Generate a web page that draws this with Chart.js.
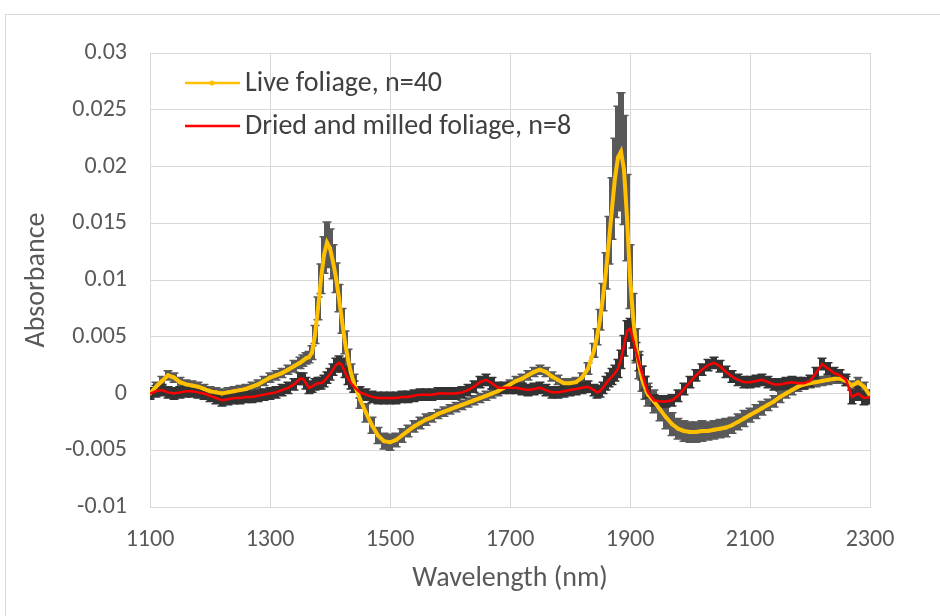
<!DOCTYPE html>
<html>
<head>
<meta charset="utf-8">
<script src="https://cdn.jsdelivr.net/npm/chart.js@4.4.0/dist/chart.umd.min.js"></script>
<style>
  html, body { margin: 0; padding: 0; background: #fff; overflow: hidden; }
  canvas { display: block; }
</style>
</head>
<body>
<canvas id="spectra" width="940" height="616"></canvas>
<script>
// wavelength grid (nm): 10 nm steps, 5 nm across the two water bands
const wavelengths = [
  1100, 1110, 1120, 1130, 1140, 1150, 1160, 1170, 1180, 1190,
  1200, 1210, 1220, 1230, 1240, 1250, 1260, 1270, 1280, 1290,
  1300, 1310, 1320, 1330, 1340, 1350,
  1355, 1360, 1365, 1370, 1375, 1380, 1385, 1390, 1395, 1400,
  1405, 1410, 1415, 1420, 1425, 1430, 1435, 1440,
  1450, 1460, 1470, 1480, 1490, 1500, 1510, 1520, 1530, 1540,
  1550, 1560, 1570, 1580, 1590, 1600, 1610, 1620, 1630, 1640,
  1650, 1660, 1670, 1680, 1690, 1700, 1710, 1720, 1730, 1740,
  1750, 1760, 1770, 1780, 1790, 1800, 1810, 1820, 1830, 1840,
  1845, 1850, 1855, 1860, 1865, 1870, 1875, 1880, 1885, 1890,
  1895, 1900, 1905, 1910, 1915, 1920, 1925, 1930,
  1940, 1950, 1960, 1970, 1980, 1990, 2000, 2010, 2020, 2030,
  2040, 2050, 2060, 2070, 2080, 2090, 2100, 2110, 2120, 2130,
  2140, 2150, 2160, 2170, 2180, 2190, 2200, 2210, 2220, 2230,
  2240, 2250, 2260, 2270, 2280, 2290, 2300
];

// live foliage: mean absorbance and standard deviation
const liveMean = [
  0.0000, 0.0006, 0.0011, 0.0016, 0.0014, 0.0010, 0.0008, 0.0007, 0.0006, 0.0004,
  0.0002, 0.0001, 0.0000, 0.0001, 0.0002, 0.0003, 0.0004, 0.0006, 0.0008, 0.0011,
  0.0014, 0.0016, 0.0018, 0.0021, 0.0024, 0.0027,
  0.0029, 0.0031, 0.0032, 0.0036, 0.0052, 0.0075, 0.0101, 0.0122, 0.0133, 0.0128,
  0.0116, 0.0102, 0.0084, 0.0064, 0.0045, 0.0030, 0.0018, 0.0009,
  -0.0005, -0.0017, -0.0028, -0.0037, -0.0042, -0.0043, -0.0041, -0.0037, -0.0033, -0.0029,
  -0.0026, -0.0023, -0.0021, -0.0018, -0.0016, -0.0014, -0.0012, -0.0010, -0.0008, -0.0006,
  -0.0004, -0.0002, 0.0000, 0.0002, 0.0005, 0.0008, 0.0011, 0.0013, 0.0016, 0.0019,
  0.0021, 0.0019, 0.0015, 0.0012, 0.0009, 0.0009, 0.0010, 0.0014, 0.0022, 0.0038,
  0.0050, 0.0065, 0.0085, 0.0108, 0.0135, 0.0163, 0.0190, 0.0208, 0.0213, 0.0197,
  0.0155, 0.0103, 0.0068, 0.0042, 0.0025, 0.0013, 0.0005, -0.0001,
  -0.0007, -0.0014, -0.0021, -0.0027, -0.0031, -0.0033, -0.0034, -0.0034, -0.0033, -0.0033,
  -0.0032, -0.0031, -0.0030, -0.0028, -0.0025, -0.0022, -0.0019, -0.0016, -0.0013, -0.0010,
  -0.0007, -0.0003, 0.0000, 0.0003, 0.0006, 0.0008, 0.0009, 0.0010, 0.0011, 0.0012,
  0.0013, 0.0013, 0.0011, 0.0007, 0.0010, 0.0006, -0.0002
];
const liveSd = [
  0.0004, 0.0004, 0.0004, 0.0004, 0.0004, 0.0004, 0.0004, 0.0004, 0.0004, 0.0004,
  0.0004, 0.0004, 0.0004, 0.0004, 0.0004, 0.0004, 0.0004, 0.0004, 0.0004, 0.0004,
  0.0004, 0.0004, 0.0004, 0.0004, 0.0005, 0.0005,
  0.0005, 0.0005, 0.0005, 0.0006, 0.0008, 0.0010, 0.0013, 0.0016, 0.0018, 0.0017,
  0.0015, 0.0013, 0.0012, 0.0011, 0.0010, 0.0009, 0.0008, 0.0008,
  0.0008, 0.0008, 0.0007, 0.0007, 0.0007, 0.0007, 0.0006, 0.0006, 0.0005, 0.0005,
  0.0005, 0.0005, 0.0004, 0.0004, 0.0004, 0.0004, 0.0004, 0.0004, 0.0004, 0.0004,
  0.0004, 0.0004, 0.0004, 0.0004, 0.0004, 0.0004, 0.0004, 0.0004, 0.0004, 0.0004,
  0.0004, 0.0004, 0.0004, 0.0004, 0.0004, 0.0004, 0.0004, 0.0004, 0.0005, 0.0006,
  0.0007, 0.0009, 0.0012, 0.0016, 0.0021, 0.0027, 0.0035, 0.0045, 0.0052, 0.0048,
  0.0038, 0.0028, 0.0020, 0.0015, 0.0012, 0.0011, 0.0010, 0.0010,
  0.0010, 0.0010, 0.0010, 0.0010, 0.0009, 0.0009, 0.0009, 0.0009, 0.0009, 0.0008,
  0.0008, 0.0008, 0.0008, 0.0007, 0.0007, 0.0007, 0.0006, 0.0006, 0.0006, 0.0005,
  0.0005, 0.0005, 0.0004, 0.0004, 0.0004, 0.0004, 0.0004, 0.0004, 0.0004, 0.0004,
  0.0004, 0.0004, 0.0004, 0.0004, 0.0004, 0.0004, 0.0004
];

// dried and milled foliage: mean absorbance and standard deviation
const driedMean = [
  0.0000, 0.0002, 0.0003, 0.0001, 0.0000, 0.0001, 0.0002, 0.0002, 0.0001, 0.0000,
  -0.0002, -0.0004, -0.0006, -0.0005, -0.0004, -0.0004, -0.0003, -0.0003, -0.0002, -0.0001,
  0.0000, 0.0001, 0.0003, 0.0005, 0.0008, 0.0013,
  0.0013, 0.0009, 0.0005, 0.0006, 0.0008, 0.0009, 0.0009, 0.0011, 0.0014, 0.0017,
  0.0021, 0.0025, 0.0027, 0.0025, 0.0019, 0.0013, 0.0009, 0.0006,
  0.0001, -0.0001, -0.0003, -0.0004, -0.0004, -0.0004, -0.0004, -0.0003, -0.0003, -0.0002,
  -0.0001, -0.0001, -0.0001, 0.0000, 0.0000, 0.0000, 0.0000, 0.0001, 0.0003, 0.0006,
  0.0010, 0.0012, 0.0009, 0.0005, 0.0005, 0.0005, 0.0005, 0.0004, 0.0003, 0.0004,
  0.0005, 0.0003, 0.0001, 0.0001, 0.0002, 0.0003, 0.0004, 0.0005, 0.0006, 0.0003,
  0.0001, 0.0002, 0.0005, 0.0009, 0.0012, 0.0015, 0.0018, 0.0022, 0.0030, 0.0042,
  0.0055, 0.0057, 0.0048, 0.0037, 0.0027, 0.0018, 0.0009, 0.0001,
  -0.0006, -0.0007, -0.0007, -0.0006, -0.0002, 0.0004, 0.0010, 0.0016, 0.0021, 0.0025,
  0.0027, 0.0024, 0.0019, 0.0015, 0.0012, 0.0010, 0.0010, 0.0011, 0.0012, 0.0010,
  0.0008, 0.0008, 0.0009, 0.0010, 0.0009, 0.0009, 0.0011, 0.0018, 0.0026, 0.0022,
  0.0018, 0.0016, 0.0012, -0.0003, 0.0000, -0.0004, -0.0003
];
const driedSd = [
  0.0005, 0.0005, 0.0005, 0.0005, 0.0005, 0.0005, 0.0005, 0.0005, 0.0005, 0.0005,
  0.0005, 0.0005, 0.0005, 0.0005, 0.0005, 0.0005, 0.0005, 0.0005, 0.0005, 0.0005,
  0.0005, 0.0005, 0.0005, 0.0005, 0.0005, 0.0005,
  0.0005, 0.0005, 0.0005, 0.0005, 0.0005, 0.0005, 0.0005, 0.0005, 0.0005, 0.0005,
  0.0005, 0.0006, 0.0006, 0.0006, 0.0005, 0.0005, 0.0005, 0.0005,
  0.0005, 0.0005, 0.0005, 0.0005, 0.0005, 0.0005, 0.0005, 0.0005, 0.0005, 0.0005,
  0.0005, 0.0005, 0.0005, 0.0005, 0.0005, 0.0005, 0.0005, 0.0005, 0.0005, 0.0005,
  0.0005, 0.0005, 0.0005, 0.0005, 0.0005, 0.0005, 0.0005, 0.0005, 0.0005, 0.0005,
  0.0005, 0.0005, 0.0005, 0.0005, 0.0005, 0.0005, 0.0005, 0.0005, 0.0005, 0.0005,
  0.0005, 0.0005, 0.0005, 0.0006, 0.0006, 0.0007, 0.0007, 0.0008, 0.0008, 0.0009,
  0.0009, 0.0009, 0.0008, 0.0008, 0.0007, 0.0006, 0.0006, 0.0005,
  0.0005, 0.0005, 0.0005, 0.0005, 0.0005, 0.0005, 0.0005, 0.0005, 0.0005, 0.0005,
  0.0005, 0.0005, 0.0005, 0.0005, 0.0005, 0.0005, 0.0005, 0.0005, 0.0005, 0.0005,
  0.0005, 0.0005, 0.0005, 0.0005, 0.0005, 0.0005, 0.0005, 0.0005, 0.0005, 0.0005,
  0.0005, 0.0005, 0.0005, 0.0006, 0.0006, 0.0006, 0.0006
];

const seriesLabels = ["Live foliage, n=40", "Dried and milled foliage, n=8"];
const xTickValues = [1100, 1300, 1500, 1700, 1900, 2100, 2300];
const yTickValues = [-0.01, -0.005, 0, 0.005, 0.01, 0.015, 0.02, 0.025, 0.03];

const FONT = "Carlito, Calibri, Lato, sans-serif";
const GRID = "#d9d9d9";
const TEXT = "#595959";

function toPoints(means) {
  return wavelengths.map((w, i) => ({ x: w, y: means[i] }));
}

// white page with the thin outer frame
const frame = {
  id: "frame",
  beforeDraw(chart) {
    const ctx = chart.ctx;
    ctx.save();
    ctx.fillStyle = "#fff";
    ctx.fillRect(0, 0, chart.width, chart.height);
    ctx.strokeStyle = GRID;
    ctx.lineWidth = 1;
    ctx.strokeRect(5.5, 14.5, chart.width + 20, chart.height + 20);
    ctx.restore();
  }
};

// +/- one standard deviation bars, drawn under both lines
const errorBars = {
  id: "errorBars",
  beforeDatasetsDraw(chart) {
    const { ctx, chartArea, scales: { x, y } } = chart;
    ctx.save();
    ctx.beginPath();
    ctx.rect(chartArea.left, chartArea.top, chartArea.right - chartArea.left, chartArea.bottom - chartArea.top);
    ctx.clip();
    chart.data.datasets.forEach(ds => {
      ctx.strokeStyle = ds.errorColor;
      ds.data.forEach((p, i) => {
        const px = x.getPixelForValue(p.x);
        const top = y.getPixelForValue(p.y + ds.errors[i]);
        const bot = y.getPixelForValue(p.y - ds.errors[i]);
        ctx.lineWidth = 6;
        ctx.beginPath();
        ctx.moveTo(px, top);
        ctx.lineTo(px, bot);
        ctx.stroke();
        ctx.lineWidth = 1.5;
        ctx.beginPath();
        ctx.moveTo(px - 4.5, top); ctx.lineTo(px + 4.5, top);
        ctx.moveTo(px - 4.5, bot); ctx.lineTo(px + 4.5, bot);
        ctx.stroke();
      });
    });
    ctx.restore();
  }
};

// legend inside the plot, top left
const legendBox = {
  id: "legendBox",
  afterDraw(chart) {
    const ctx = chart.ctx;
    ctx.save();
    chart.data.datasets.forEach((ds, i) => {
      const yy = 83 + i * 43;
      ctx.strokeStyle = ds.borderColor;
      ctx.lineWidth = 2.5;
      ctx.beginPath();
      ctx.moveTo(185, yy);
      ctx.lineTo(240, yy);
      ctx.stroke();
      if (ds.pointRadius > 0) {
        ctx.fillStyle = ds.borderColor;
        ctx.beginPath();
        ctx.arc(212, yy, 2.5, 0, Math.PI * 2);
        ctx.fill();
      }
      ctx.fillStyle = "#404040";
      ctx.font = "28px " + FONT;
      ctx.textBaseline = "middle";
      ctx.fillText(ds.label, 245, yy + 1);
    });
    ctx.restore();
  }
};

new Chart(document.getElementById("spectra"), {
  type: "line",
  data: {
    datasets: [
      {
        label: seriesLabels[0],
        data: toPoints(liveMean),
        errors: liveSd,
        errorColor: "#595959",
        borderColor: "#ffc000",
        backgroundColor: "#ffc000",
        borderWidth: 4,
        pointRadius: 2,
        pointBorderWidth: 0,
        pointBackgroundColor: "#ffc000",
        tension: 0,
        order: 1
      },
      {
        label: seriesLabels[1],
        data: toPoints(driedMean),
        errors: driedSd,
        errorColor: "#333333",
        borderColor: "#ff0000",
        backgroundColor: "#ff0000",
        borderWidth: 2.5,
        pointRadius: 0,
        tension: 0,
        order: 0
      }
    ]
  },
  options: {
    responsive: false,
    animation: false,
    devicePixelRatio: 1,
    layout: { padding: { left: 0, top: 53, right: 70, bottom: 0 } },
    plugins: { legend: { display: false }, tooltip: { enabled: false } },
    scales: {
      x: {
        type: "linear",
        min: 1100,
        max: 2300,
        afterBuildTicks: s => { s.ticks = xTickValues.map(v => ({ value: v })); },
        afterFit: s => { s.height = 109; },
        grid: { color: GRID, drawTicks: false },
        border: { color: GRID },
        ticks: {
          color: TEXT,
          font: { family: FONT, size: 24 },
          padding: 19,
          callback: v => String(v)
        },
        title: {
          display: true,
          text: "Wavelength (nm)",
          color: TEXT,
          font: { family: FONT, size: 28 },
          padding: { bottom: 20 }
        }
      },
      y: {
        type: "linear",
        min: -0.01,
        max: 0.03,
        afterBuildTicks: s => { s.ticks = yTickValues.map(v => ({ value: v })); },
        afterFit: s => { s.width = 150; },
        grid: { color: GRID, drawTicks: false },
        border: { color: GRID },
        ticks: {
          color: TEXT,
          font: { family: FONT, size: 24 },
          padding: 23,
          callback: v => String(+v.toFixed(3))
        },
        title: {
          display: true,
          text: "Absorbance",
          color: TEXT,
          font: { family: FONT, size: 28 },
          padding: { top: 20 }
        }
      }
    }
  },
  plugins: [frame, errorBars, legendBox]
});
</script>
</body>
</html>
